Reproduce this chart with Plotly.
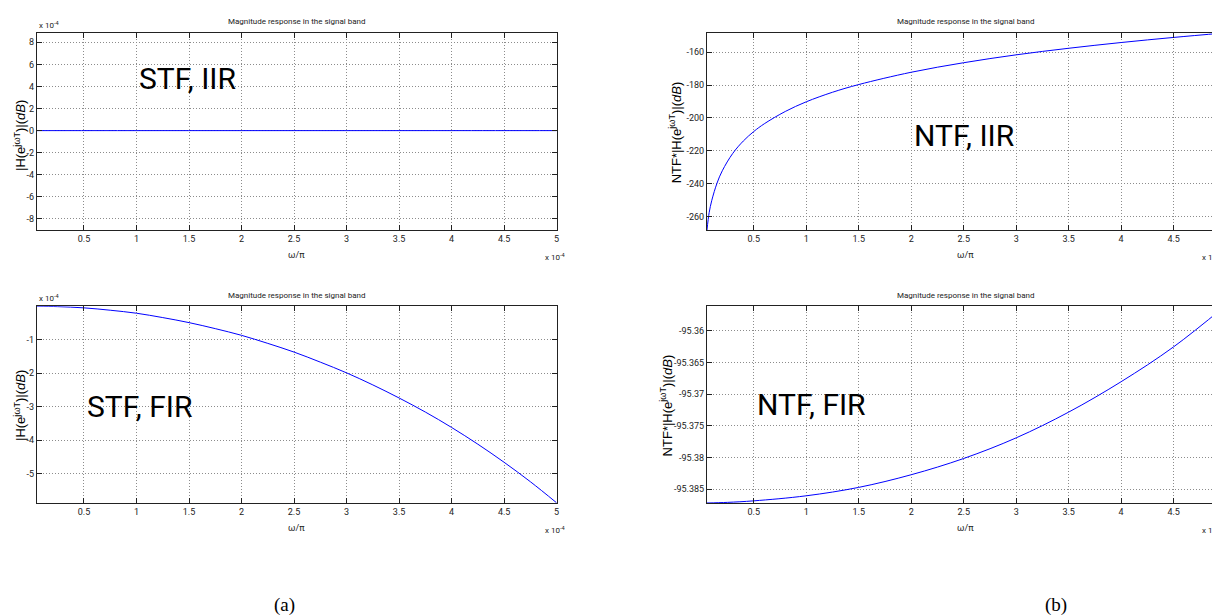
import plotly.graph_objects as go

W, H = 1220, 616

# ---------------- data (x in units of 1e-4, omega/pi) ----------------
stf_iir_x = [0.05, 1.0, 2.0, 3.0, 4.0, 5.0]
stf_iir_y = [0.0, 0.0, 0.0, 0.0, 0.0, 0.0]          # x 1e-4 dB

ntf_iir_x = [0.054, 0.075, 0.1, 0.15, 0.2, 0.3, 0.4, 0.5, 0.6, 0.8, 1.0, 1.25,
             1.5, 2.0, 2.5, 3.0, 3.5, 4.0, 4.5, 4.98]
ntf_iir_y = [-268.3, -257.7, -250.2, -239.7, -232.2, -221.6, -214.1, -208.3,
             -203.6, -196.1, -190.2, -184.4, -179.7, -172.2, -166.4, -161.6,
             -157.6, -154.1, -151.0, -148.3]

stf_fir_x = [0.05, 0.25, 0.5, 0.75, 1.0, 1.25, 1.5, 1.75, 2.0, 2.25, 2.5, 2.75,
             3.0, 3.25, 3.5, 3.75, 4.0, 4.25, 4.5, 4.75, 5.0]
stf_fir_y = [0.0, -0.013, -0.05, -0.12, -0.21, -0.34, -0.49, -0.67, -0.87,
             -1.11, -1.37, -1.67, -1.99, -2.35, -2.74, -3.16, -3.62, -4.12,
             -4.66, -5.24, -5.87]                    # x 1e-4 dB

ntf_fir_x = [0.054, 0.25, 0.5, 1.0, 1.5, 2.0, 2.5, 3.0, 3.5, 4.0, 4.5, 4.98]
ntf_fir_y = [-95.3872, -95.3871, -95.38686, -95.38606, -95.38473, -95.38273,
             -95.38016, -95.3769, -95.37283, -95.36802, -95.36251, -95.3562]

x_ticks = [0.5, 1, 1.5, 2, 2.5, 3, 3.5, 4, 4.5, 5]
x_tick_text = ["0.5", "1", "1.5", "2", "2.5", "3", "3.5", "4", "4.5", "5"]
stf_iir_ticks = [-8, -6, -4, -2, 0, 2, 4, 6, 8]
stf_fir_ticks = [-5, -4, -3, -2, -1]
ntf_iir_ticks = [-260, -240, -220, -200, -180, -160]
ntf_fir_ticks = [-95.385, -95.38, -95.375, -95.37, -95.365, -95.36]
ntf_fir_text = ["-95.385", "-95.38", "-95.375", "-95.37", "-95.365", "-95.36"]

TITLE = "Magnitude response in the signal band"
NARROW = "Roboto, Liberation Sans, sans-serif"
SANS = "Liberation Sans, Arial, sans-serif"

def px(x):
    return x / W

def py(y):
    return 1 - y / H

# panel pixel boxes: left, right, top, bottom
boxes = {
    1: (29, 550, 25, 222),
    2: (700.7, 1219, 25, 222),
    3: (29, 550, 298.3, 495),
    4: (700.7, 1219, 298.3, 495),
}

fig = go.Figure()
series = [
    (1, stf_iir_x, stf_iir_y),
    (2, ntf_iir_x, ntf_iir_y),
    (3, stf_fir_x, stf_fir_y),
    (4, ntf_fir_x, ntf_fir_y),
]
for i, xs, ys in series:
    fig.add_trace(go.Scatter(
        x=xs, y=ys, mode="lines", line=dict(color="#0000ff", width=1, shape="spline"),
        xaxis="x" if i == 1 else f"x{i}", yaxis="y" if i == 1 else f"y{i}",
        showlegend=False, hoverinfo="skip"))

axis_common = dict(
    showline=True, linecolor="#222", linewidth=1, mirror="ticks",
    ticks="inside", ticklen=5, tickcolor="#222",
    showgrid=True, gridcolor="#8c8c8c", griddash="1px,2px", gridwidth=1,
    zeroline=False, tickfont=dict(family=NARROW, size=9, color="#222"),
)

xranges = {1: [0.052, 5.0], 2: [0.054, 4.98], 3: [0.052, 5.0], 4: [0.054, 4.98]}
yranges = {1: [-9.0, 8.84], 2: [-268.3, -148.3], 3: [-5.875, -0.003],
           4: [-95.3872, -95.3561]}
yt = {1: (stf_iir_ticks, [str(v) for v in stf_iir_ticks]),
      2: (ntf_iir_ticks, [str(v) for v in ntf_iir_ticks]),
      3: (stf_fir_ticks, [str(v) for v in stf_fir_ticks]),
      4: (ntf_fir_ticks, ntf_fir_text)}

layout = dict(width=W, height=H, margin=dict(l=0, r=0, t=0, b=0),
              paper_bgcolor="white", plot_bgcolor="white")
for i, (l, r, t, b) in boxes.items():
    xs = "xaxis" if i == 1 else f"xaxis{i}"
    ys = "yaxis" if i == 1 else f"yaxis{i}"
    yid = "y" if i == 1 else f"y{i}"
    xid = "x" if i == 1 else f"x{i}"
    layout[xs] = dict(axis_common, domain=[px(l), px(r)], range=xranges[i],
                      tickvals=x_ticks, ticktext=x_tick_text, anchor=yid)
    layout[ys] = dict(axis_common, domain=[py(b), py(t)], range=yranges[i],
                      tickvals=yt[i][0], ticktext=yt[i][1], anchor=xid)
fig.update_layout(**layout)

ann = []

def add(text, x, y, size, family=NARROW, angle=0, xanchor="center", yanchor="middle", color="black"):
    ann.append(dict(text=text, x=px(x), y=py(y), xref="paper", yref="paper",
                    showarrow=False, textangle=angle, xanchor=xanchor, yanchor=yanchor,
                    font=dict(family=family, size=size, color=color)))

for i, (l, r, t, b) in boxes.items():
    cx = (l + r) / 2 if i in (1, 3) else 960
    add(TITLE, cx, t - 11, 8, color="#222")
    add("ω/π", cx, b + 25, 9, color="#222")
    if i in (1, 3):
        add("x 10<sup>-4</sup>", 536, b + 27, 8, xanchor="left", color="#222")
        add("x 10<sup>-4</sup>", 29, t - 8, 8, xanchor="left", color="#222")
    else:
        add("x 10<sup>-4</sup>", 1219, b + 27, 8, xanchor="right", color="#222")

add("|H(e<sup>jωT</sup>)|(<i>dB</i>)", 12, 127, 13, family=SANS, angle=-90)
add("|H(e<sup>jωT</sup>)|(<i>dB</i>)", 12, 397, 13, family=SANS, angle=-90)
add("NTF*|H(e<sup>jωT</sup>)|(<i>dB</i>)", 669, 124, 13, family=SANS, angle=-90)
add("NTF*|H(e<sup>jωT</sup>)|(<i>dB</i>)", 660, 397, 13, family=SANS, angle=-90)

add("STF, IIR", 180, 70, 30)
add("NTF, IIR", 958, 127, 30)
add("STF, FIR", 132, 398, 30)
add("NTF, FIR", 805, 397, 30)

add("(a)", 277, 597, 19, family="Liberation Serif, Times New Roman, serif")
add("(b)", 1051, 597, 19, family="Liberation Serif, Times New Roman, serif")

fig.update_layout(annotations=ann)
fig.write_html("out.html")
